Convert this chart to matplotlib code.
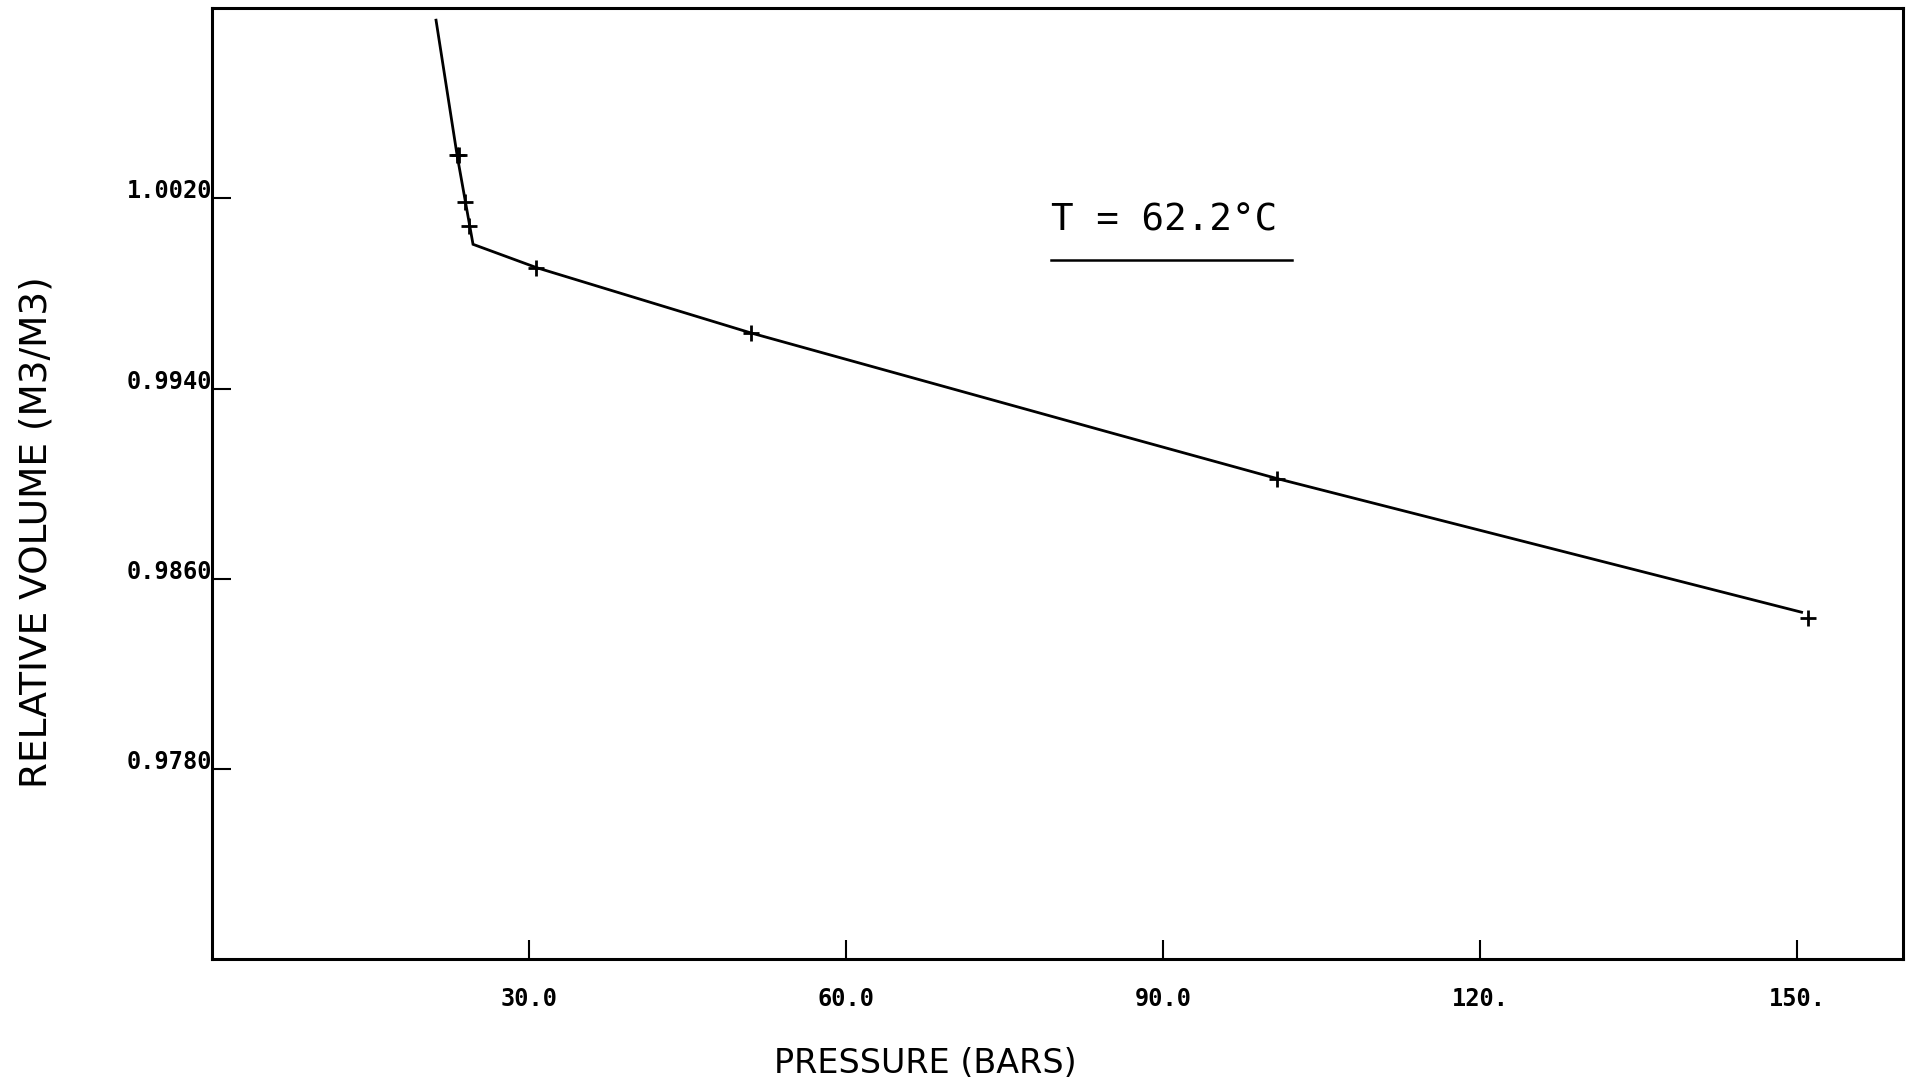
import matplotlib.pyplot as plt

# measured points (pressure in bars, relative volume m3/m3)
p_meas = [23.2, 23.4, 23.9, 24.3, 30.7, 51.0, 100.8, 151.0]
v_meas = [1.00384, 1.00384, 1.00186, 1.00083, 0.99909, 0.99634, 0.99021, 0.98434]

# fitted curve through the data, with the bubble point knee
p_fit = [21.2, 23.2, 24.7, 30.7, 51.0, 85.3, 100.8, 150.4]
v_fit = [1.0095, 1.0038, 1.00007, 0.99909, 0.99634, 0.99211, 0.99021, 0.98459]

x_ticks = [30, 60, 90, 120, 150]
x_labels = ["30.0", "60.0", "90.0", "120.", "150."]
y_ticks = [0.9780, 0.9860, 0.9940, 1.0020]
y_labels = ["0.9780", "0.9860", "0.9940", "1.0020"]

fig = plt.figure(figsize=(19.13, 10.78), dpi=100)
ax = fig.add_axes([0.1108, 0.1104, 0.8840, 0.8819])

ax.plot(p_fit, v_fit, color="black", lw=2.0, solid_joinstyle="miter")
ax.plot(p_meas, v_meas, ls="none", marker="+", color="black", ms=12, mew=2)

ax.set_xlim(0, 160)
ax.set_ylim(0.9700, 1.0100)

for s in ax.spines.values():
    s.set_linewidth(2.2)

tick_font = dict(family="DejaVu Sans Mono", weight="bold", size=17)
ax.set_xticks(x_ticks)
ax.set_xticklabels(x_labels, **tick_font)
ax.set_yticks(y_ticks)
ax.set_yticklabels(y_labels, **tick_font)
ax.tick_params(axis="both", direction="in", length=14, width=1.5)
ax.tick_params(axis="x", pad=20)
ax.tick_params(axis="y", pad=0)
for lab in ax.get_yticklabels():
    lab.set_verticalalignment("baseline")

ax.set_xlabel("PRESSURE (BARS)", fontsize=24, family="DejaVu Sans")
ax.xaxis.set_label_coords(0.422, -0.0925)
ax.set_ylabel("RELATIVE VOLUME (M3/M3)", fontsize=27, family="DejaVu Sans")
ax.yaxis.label.set_verticalalignment("center")
ax.yaxis.set_label_coords(-0.104, 0.449)

# temperature annotation with underline
ax.text(79.4, 1.00106, "T = 62.2°C", fontsize=27, family="DejaVu Sans Mono",
        ha="left", va="center")
ax.plot([79.4, 102.2], [0.99941, 0.99941], color="black", lw=1.8)

fig.savefig("out.png", dpi=100)
